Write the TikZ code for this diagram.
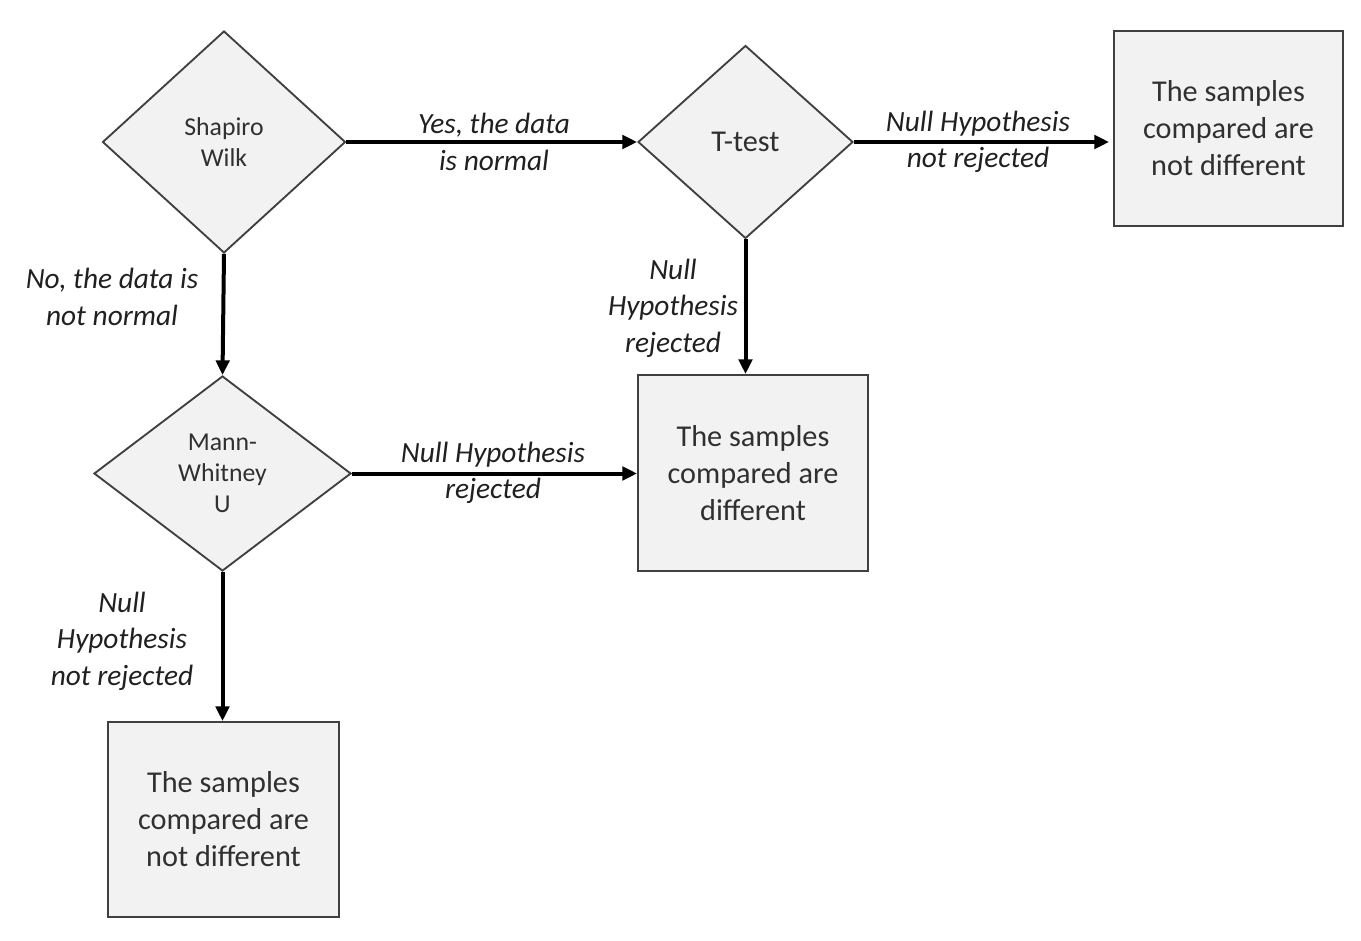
\documentclass[tikz,border=0pt]{standalone}
\usepackage{fontspec}
\setmainfont{Carlito}
\usetikzlibrary{shapes.geometric,arrows.meta}
\definecolor{boxfill}{HTML}{F2F2F2}
\definecolor{boxline}{HTML}{404040}
\definecolor{txt}{HTML}{303030}
\definecolor{lbl}{HTML}{202020}
\tikzset{
  decision/.style={shape=diamond, draw=boxline, line width=1.4pt, fill=boxfill, inner sep=0pt, text=txt, align=center, font={\fontsize{19.3}{23.2}\selectfont}},
  outcome/.style={shape=rectangle, draw=boxline, line width=1.4pt, fill=boxfill, inner sep=0pt, text=txt, align=center, font={\fontsize{22.7}{27.7}\selectfont}},
  edgelbl/.style={text=lbl, align=center, font={\itshape\fontsize{22}{27.3}\selectfont}, inner sep=0pt},
  flow/.style={line width=3pt, black, -{Triangle[length=11pt,width=10pt]}}
}
\begin{document}
\begin{tikzpicture}[x=0.75pt,y=-0.75pt]
\useasboundingbox (0,0) rectangle (1361,941);
% decisions
\node[decision, minimum width=182.25pt, minimum height=166.5pt] (sw) at (224,142) {Shapiro\\Wilk};
\node[decision, minimum width=161.25pt, minimum height=144.75pt, font={\fontsize{22.7}{27.7}\selectfont}] (tt) at (745.5,142) {T-test};
\node[decision, minimum width=192.75pt, minimum height=146.25pt] (mw) at (222.5,473.5) {Mann-\\Whitney\\U};
% outcomes
\node[outcome, minimum width=171.75pt, minimum height=146.25pt] (nd1) at (1228.5,128.5) {The samples\\compared are\\not different};
\node[outcome, minimum width=172.5pt, minimum height=147pt] (df) at (753,473) {The samples\\compared are\\different};
\node[outcome, minimum width=173.25pt, minimum height=146.25pt] (nd2) at (223.5,819.5) {The samples\\compared are\\not different};
% connectors
\draw[flow] (sw.east) -- (tt.west);
\draw[flow] (tt.east) -- ([xshift=-3pt]nd1.west |- tt.east);
\draw[flow] (tt.south) -- (tt.south |- df.north);
\draw[flow] (sw.south) -- (mw.north);
\draw[flow] (mw.east) -- (mw.east -| df.west);
\draw[flow] (mw.south) -- (mw.south |- nd2.north);
% labels
\node[edgelbl] (l1) at (494,142) {Yes, the data\\is normal};
\node[edgelbl] (l2) at (978,142) {Null Hypothesis\\not rejected};
\node[edgelbl] (l3) at (112,297) {No, the data is\\not normal};
\node[edgelbl] (l4) at (673,308) {Null\\Hypothesis\\rejected};
\node[edgelbl] (l5) at (493,473) {Null Hypothesis\\rejected};
\node[edgelbl] (l6) at (122,641) {Null\\Hypothesis\\not rejected};
\end{tikzpicture}
\end{document}
